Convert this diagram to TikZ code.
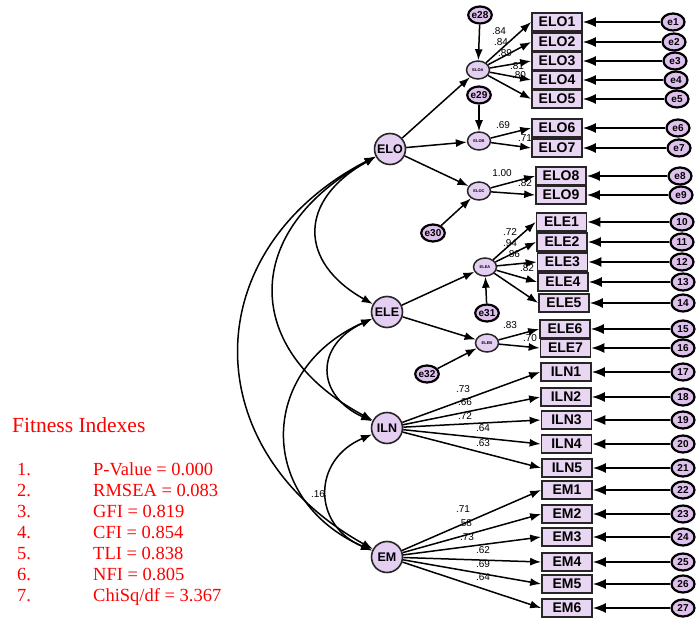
\documentclass[tikz,border=0pt]{standalone}
\usepackage{fontspec}
\setmainfont{Liberation Serif}
\setsansfont{Liberation Sans}
\usepackage{tikz}
\usetikzlibrary{arrows.meta, positioning, shapes}

\definecolor{itemfill}{RGB}{233,214,243}
\definecolor{latfill}{RGB}{228,206,242}
\definecolor{errfill}{RGB}{222,192,236}

\begin{document}
\begin{tikzpicture}[x=1pt, y=-1pt,
    item/.style={rectangle, draw=black!85, fill=itemfill, line width=1.7pt, minimum height=18pt, minimum width=50pt, inner sep=0pt, font=\sffamily\bfseries\fontsize{14}{14}\selectfont},
    latent/.style={circle, draw=black!85, fill=latfill, line width=1.6pt, minimum size=31pt, inner sep=0pt, font=\sffamily\bfseries\fontsize{12.5}{12.5}\selectfont},
    sublatent/.style={ellipse, draw=black!85, fill=latfill, line width=1.5pt, minimum width=23pt, minimum height=18pt, inner sep=0pt, font=\sffamily\bfseries\fontsize{4}{4}\selectfont},
    err/.style={ellipse, draw=black, fill=errfill, line width=2.2pt, minimum width=23pt, minimum height=17pt, inner sep=0pt, font=\sffamily\bfseries\fontsize{10}{10}\selectfont},
    loading/.style={inner sep=0pt, font=\sffamily\fontsize{10}{10}\selectfont},
    arr/.style={-{Latex[length=11pt,width=8pt]}, line width=1.5pt},
    errarr/.style={-{Latex[length=13pt,width=10pt]}, line width=1.5pt},
    cov/.style={{Latex[length=11pt,width=8pt]}-{Latex[length=11pt,width=8pt]}, line width=1.5pt}
    ]
    \useasboundingbox (0,0) rectangle (696,620);

    % Second-order constructs
    \node[latent] (elo) at (390,149) {ELO};
    \node[latent] (ele) at (387,312) {ELE};
    \node[latent] (iln) at (387,428) {ILN};
    \node[latent] (em) at (387,557) {EM};

    % First-order constructs
    \node[sublatent] (eloa) at (478,70) {ELOA};
    \node[sublatent] (elob) at (479,141) {ELOB};
    \node[sublatent] (eloc) at (479,191) {ELOC};
    \node[sublatent] (elea) at (485,267) {ELEA};
    \node[sublatent] (eleb) at (487,343) {ELEB};

    % Disturbances
    \node[err] (e28) at (480,15) {e28};
    \node[err] (e29) at (479,95) {e29};
    \node[err] (e30) at (433,233) {e30};
    \node[err] (e31) at (487,313) {e31};
    \node[err] (e32) at (427,374) {e32};
    \draw[arr] (e28) -- (eloa);
    \draw[arr] (e29) -- (elob);
    \draw[arr] (e30) -- (eloc);
    \draw[arr] (e31) -- (elea);
    \draw[arr] (e32) -- (eleb);

    % Indicators and their errors
    \foreach \name/\yy/\bx/\ex/\el in {ELO1/22/557/673/e1, ELO2/42/557/674/e2,
        ELO3/61/557/675/e3, ELO4/80/557/676/e4, ELO5/99/557/677/e5,
        ELO6/128/557/678/e6, ELO7/148/557/679/e7, ELO8/176/561/680/e8,
        ELO9/195/561/681/e9, ELE1/222/561.5/682/10, ELE2/242/562/682/11,
        ELE3/262/562.5/682/12, ELE4/282/563/683/13, ELE5/303/564/683/14,
        ELE6/329/565/683/15, ELE7/348/565.5/683/16, ILN1/372/566/683/17,
        ILN2/397/566/683/18, ILN3/420/566.5/683/19, ILN4/444/566.5/683/20,
        ILN5/468/567/683/21, EM1/490/567/683/22, EM2/514/567/683/23,
        EM3/537/567/683/24, EM4/562/567/683/25, EM5/584/567/683/26,
        EM6/608/567/683/27} {
        \node[item] (\name) at (\bx,\yy) {\name};
        \node[err] (e-\name) at (\ex,\yy) {\el};
        \draw[errarr] (e-\name) -- (\name);
    }

    % Structural paths
    \draw[arr] (elo) -- (eloa);
    \draw[arr] (elo) -- (elob);
    \draw[arr] (elo) -- (eloc);
    \draw[arr] (ele) -- (elea);
    \draw[arr] (ele) -- (eleb);

    % Loadings
    \foreach \t in {ELO1,ELO2,ELO3,ELO4,ELO5} \draw[arr] (eloa) -- (\t.west);
    \foreach \t in {ELO6,ELO7} \draw[arr] (elob) -- (\t.west);
    \foreach \t in {ELO8,ELO9} \draw[arr] (eloc) -- (\t.west);
    \foreach \t in {ELE1,ELE2,ELE3,ELE4,ELE5} \draw[arr] (elea) -- (\t.west);
    \foreach \t in {ELE6,ELE7} \draw[arr] (eleb) -- (\t.west);
    \foreach \t in {ILN1,ILN2,ILN3,ILN4,ILN5} \draw[arr] (iln) -- (\t.west);
    \foreach \t in {EM1,EM2,EM3,EM4,EM5,EM6} \draw[arr] (em) -- (\t.west);

    \foreach \name/\v/\lx/\ly in {ELO1/.84/499/31, ELO2/.84/501/42, ELO3/.89/505/53,
        ELO4/.81/517/66, ELO5/.80/519/75, ELO6/.69/503/125, ELO7/.71/525/138,
        ELO8/1.00/502/173, ELO9/.82/525/183, ELE1/.72/510/232, ELE2/.94/510/243,
        ELE3/.86/513/254, ELE4/.82/527/268, ELE6/.83/510/325, ELE7/.70/530/338,
        ILN1/.73/463/389, ILN2/.66/465/402, ILN3/.72/465/416, ILN4/.64/483/428,
        ILN5/.63/483/443, EM1/.71/463/509, EM2/.58/465/523, EM3/.73/467/537,
        EM4/.62/483/550, EM5/.69/483/564, EM6/.64/483/577}
        \node[loading] (l-\name) at (\lx,\ly) {\v};

    % Covariances
    \draw[cov] (elo) .. controls (298,200) and (298,262) .. (ele);
    \draw[cov] (elo) .. controls (241,230) and (241,350) .. (iln);
    \draw[cov] (elo) .. controls (195,250) and (195,450) .. (em);
    \draw[cov] (ele) .. controls (315,345) and (315,395) .. (iln);
    \draw[cov] (ele) .. controls (257,370) and (257,500) .. (em);
    \draw[cov] (iln) .. controls (312,460) and (312,525) .. (em);
    \node[loading] (c-iln-em) at (318,494) {.16};

    % Fitness indexes
    \node[anchor=base west, inner sep=0pt, text=red, font=\fontsize{21.5}{21.5}\selectfont] (fittitle) at (12,432) {Fitness Indexes};
    \foreach \i/\t in {1/{P-Value = 0.000}, 2/{RMSEA = 0.083}, 3/{GFI = 0.819},
        4/{CFI = 0.854}, 5/{TLI = 0.838}, 6/{NFI = 0.805}, 7/{ChiSq/df = 3.367}} {
        \node[anchor=base west, inner sep=0pt, text=red, font=\fontsize{18.5}{18.5}\selectfont] (num\i) at (17,{454+21*\i}) {\i.};
        \node[anchor=base west, inner sep=0pt, text=red, font=\fontsize{18.5}{18.5}\selectfont] (fit\i) at (93,{454+21*\i}) {\t};
    }
\end{tikzpicture}
\end{document}
